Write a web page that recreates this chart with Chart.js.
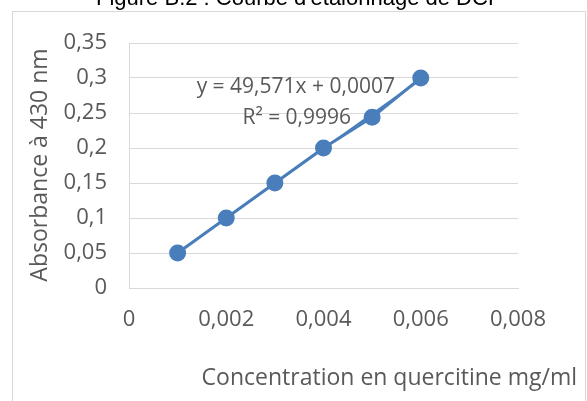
<!DOCTYPE html>
<html>
<head>
<meta charset="utf-8">
<script src="https://cdn.jsdelivr.net/npm/chart.js@4"></script>
<style>
  html, body { margin: 0; padding: 0; background: #fff; }
  #wrap { width: 587px; height: 401px; }
</style>
</head>
<body>
<div id="wrap"><canvas id="calib" width="587" height="401"></canvas></div>
<script>
// values
const concentrations = [0.001, 0.002, 0.003, 0.004, 0.005, 0.006];
const absorbances = [0.05, 0.1, 0.15, 0.2, 0.244, 0.3];
// trendline ends (y = 49,571x + 0,0007)
const trendX = [0.001, 0.006];
const trendY = [0.0503, 0.2981];
const xTickLabels = ['0', '0,002', '0,004', '0,006', '0,008'];
const yTickLabels = ['0', '0,05', '0,1', '0,15', '0,2', '0,25', '0,3', '0,35'];
const equationText = 'y = 49,571x + 0,0007';
const r2Text = 'R² = 0,9996';
const figureTitle = "Figure B.2 : Courbe d'étalonnage de DCP";
const xTitle = 'Concentration en quercitine mg/ml';
const yTitle = 'Absorbance à 430 nm';

const FONT = "'Open Sans', sans-serif";
const GREY = '#595959';
const BLUE = '#4a7ebb';

const extras = {
  id: 'extras',
  afterDraw(chart) {
    const c = chart.ctx;
    const xs = chart.scales.x, ys = chart.scales.y;
    c.save();
    // outer chart frame
    c.strokeStyle = '#d9d9d9';
    c.lineWidth = 1;
    c.strokeRect(12.5, 11.5, 573, 400);
    // clipped figure caption above the frame
    c.fillStyle = '#000';
    c.font = '22px "Liberation Sans", Arial, sans-serif';
    c.textAlign = 'left';
    c.textBaseline = 'alphabetic';
    c.fillText(figureTitle, 96, 5);
    // axis titles
    c.fillStyle = GREY;
    c.font = '23px ' + FONT;
    c.textAlign = 'right';
    c.textBaseline = 'middle';
    c.fillText(xTitle, 577, 378);
    c.save();
    c.translate(40, 165);
    c.rotate(-Math.PI / 2);
    c.textAlign = 'center';
    c.fillText(yTitle, 0, 0);
    c.restore();
    // trendline label
    c.font = '21px ' + FONT;
    c.textAlign = 'center';
    c.fillText(equationText, xs.getPixelForValue(0.00343), ys.getPixelForValue(0.2875));
    c.fillText(r2Text, xs.getPixelForValue(0.00345), ys.getPixelForValue(0.2425));
    c.restore();
  }
};

new Chart(document.getElementById('calib'), {
  type: 'scatter',
  data: {
    datasets: [
      {
        label: 'Absorbance',
        data: concentrations.map((x, i) => ({ x: x, y: absorbances[i] })),
        showLine: true,
        borderColor: BLUE,
        backgroundColor: BLUE,
        borderWidth: 3,
        pointRadius: 7,
        pointHoverRadius: 7
      },
      {
        label: 'Linéaire',
        data: trendX.map((x, i) => ({ x: x, y: trendY[i] })),
        showLine: true,
        borderColor: BLUE,
        borderWidth: 2,
        pointRadius: 0
      }
    ]
  },
  options: {
    responsive: false,
    animation: false,
    layout: { padding: { left: 0, top: 43, right: 69, bottom: 0 } },
    plugins: {
      legend: { display: false },
      tooltip: { enabled: false }
    },
    scales: {
      x: {
        type: 'linear',
        min: 0,
        max: 0.008,
        afterFit: s => { s.height = 113; },
        grid: { display: false, drawTicks: false },
        border: { display: true, color: '#d9d9d9' },
        ticks: {
          stepSize: 0.002,
          padding: 19,
          color: GREY,
          font: { family: FONT, size: 22 },
          callback: (v, i) => xTickLabels[i]
        }
      },
      y: {
        min: 0,
        max: 0.35,
        afterFit: s => { s.width = 129; },
        grid: { color: '#d9d9d9', drawTicks: false },
        border: { display: true, color: '#d9d9d9' },
        ticks: {
          stepSize: 0.05,
          padding: 22,
          color: GREY,
          font: { family: FONT, size: 22 },
          callback: (v, i) => yTickLabels[i]
        }
      }
    }
  },
  plugins: [extras]
});
</script>
</body>
</html>
